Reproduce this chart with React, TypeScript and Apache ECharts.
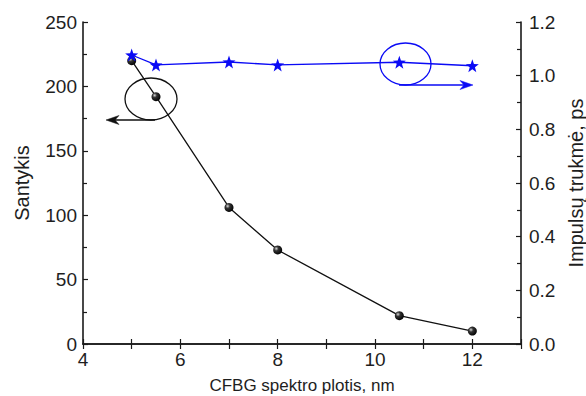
import React, { useEffect, useRef } from "react";
import * as echarts from "echarts";

// Spectral width of the CFBG, nm
const widthNm = [5, 5.5, 7, 8, 10.5, 12];
// Ratio (left axis)
const ratioValues = [220, 192, 106, 73, 22, 10];
// Pulse duration, ps (right axis)
const durationPs = [1.077, 1.04, 1.051, 1.04, 1.05, 1.037];

const xTickLabels = ["4", "6", "8", "10", "12"];

const FONT = "Liberation Sans, Arial, sans-serif";
const AXIS_COLOR = "#1a1a1a";
const TEXT_COLOR = "#1e1e1e";
const BLUE = "#0a0af5";

const STAR =
  "path://M0,-10L2.35,-3.24L9.51,-3.09L3.8,1.24L5.88,8.09L0,4L-5.88,8.09L-3.8,1.24L-9.51,-3.09L-2.35,-3.24Z";

const ballColor = new echarts.graphic.RadialGradient(0.35, 0.35, 0.7, [
  { offset: 0, color: "#d8d8d8" },
  { offset: 0.35, color: "#333" },
  { offset: 1, color: "#000" },
]);

function arrowHead(tipX: number, tipY: number, dir: number, color: string) {
  // dir = -1 points left, +1 points right
  const len = 13;
  const half = 4.5;
  const notch = 4;
  return {
    type: "polygon",
    shape: {
      points: [
        [tipX, tipY],
        [tipX - dir * len, tipY - half],
        [tipX - dir * (len - notch), tipY],
        [tipX - dir * len, tipY + half],
      ],
    },
    style: { fill: color, stroke: color, lineWidth: 0.5 },
    z: 10,
  };
}

export default function App() {
  const ref = useRef<HTMLDivElement>(null);

  useEffect(() => {
    if (!ref.current) return;
    const chart = echarts.init(ref.current, null, { renderer: "svg" });

    const tickStyle = { color: AXIS_COLOR, width: 1.2 };
    const lineStyle = { color: AXIS_COLOR, width: 1.6 };

    chart.setOption({
      animation: false,
      backgroundColor: "#fff",
      textStyle: { fontFamily: FONT },
      grid: {
        left: 83,
        right: 65,
        top: 22,
        bottom: 52,
        containLabel: false,
        outerBoundsMode: "none",
      },
      xAxis: [
        {
          type: "value",
          min: 4,
          max: 13,
          interval: 1,
          position: "bottom",
          name: "CFBG spektro plotis, nm",
          nameLocation: "middle",
          nameGap: 33,
          nameTextStyle: { fontSize: 17, color: TEXT_COLOR, fontFamily: FONT },
          axisLine: { show: true, lineStyle },
          axisTick: { show: true, inside: true, length: 5, lineStyle: tickStyle },
          axisLabel: {
            fontSize: 19,
            color: TEXT_COLOR,
            margin: 6,
            formatter: (v: number) =>
              xTickLabels.includes(String(v)) ? String(v) : "",
          },
          splitLine: { show: false },
        },
        {
          type: "value",
          min: 4,
          max: 13,
          interval: 1,
          position: "top",
          axisLine: { show: true, lineStyle },
          axisTick: { show: true, inside: true, length: 5, lineStyle: tickStyle },
          axisLabel: { show: false },
          splitLine: { show: false },
        },
      ],
      yAxis: [
        {
          type: "value",
          min: 0,
          max: 250,
          interval: 50,
          position: "left",
          name: "Santykis",
          nameLocation: "middle",
          nameRotate: 90,
          nameGap: 51,
          nameTextStyle: { fontSize: 20, color: TEXT_COLOR, fontFamily: FONT },
          axisLine: { show: true, lineStyle },
          axisTick: { show: true, inside: true, length: 5, lineStyle: tickStyle },
          minorTick: { show: true, splitNumber: 2, length: 4, lineStyle: tickStyle },
          axisLabel: { fontSize: 19, color: TEXT_COLOR, margin: 6 },
          splitLine: { show: false },
        },
        {
          type: "value",
          min: 0,
          max: 1.2,
          interval: 0.2,
          position: "right",
          name: "Impulsų trukmė, ps",
          nameLocation: "middle",
          nameRotate: 90,
          nameGap: 37,
          nameTextStyle: { fontSize: 20, color: TEXT_COLOR, fontFamily: FONT },
          axisLine: { show: true, lineStyle },
          axisTick: { show: true, inside: true, length: 5, lineStyle: tickStyle },
          minorTick: { show: true, splitNumber: 2, length: 4, lineStyle: tickStyle },
          axisLabel: {
            fontSize: 19,
            color: TEXT_COLOR,
            margin: 8,
            formatter: (v: number) => v.toFixed(1),
          },
          splitLine: { show: false },
        },
      ],
      series: [
        {
          name: "Santykis",
          type: "line",
          xAxisIndex: 0,
          yAxisIndex: 0,
          data: widthNm.map((x, i) => [x, ratioValues[i]]),
          lineStyle: { color: "#111", width: 1.3 },
          symbol: "circle",
          symbolSize: 9,
          itemStyle: { color: ballColor, borderWidth: 0 },
          z: 3,
        },
        {
          name: "Impulsų trukmė",
          type: "line",
          xAxisIndex: 0,
          yAxisIndex: 1,
          data: widthNm.map((x, i) => [x, durationPs[i]]),
          lineStyle: { color: BLUE, width: 1.3 },
          symbol: STAR,
          symbolSize: 13,
          itemStyle: { color: BLUE, borderWidth: 0 },
          z: 4,
        },
      ],
      graphic: [
        // black ellipse + arrow pointing to the left axis
        {
          type: "ellipse",
          shape: { cx: 151, cy: 99, rx: 26, ry: 21 },
          style: { fill: "none", stroke: "#111", lineWidth: 1.3 },
          z: 10,
        },
        {
          type: "line",
          shape: { x1: 155, y1: 120, x2: 112, y2: 120 },
          style: { stroke: "#111", lineWidth: 1.3 },
          z: 10,
        },
        arrowHead(106, 120, -1, "#111"),
        // blue ellipse + arrow pointing to the right axis
        {
          type: "ellipse",
          shape: { cx: 405.5, cy: 64, rx: 25.5, ry: 21 },
          style: { fill: "none", stroke: BLUE, lineWidth: 1.3 },
          z: 10,
        },
        {
          type: "line",
          shape: { x1: 399, y1: 85, x2: 467, y2: 85 },
          style: { stroke: BLUE, lineWidth: 1.3 },
          z: 10,
        },
        arrowHead(473, 85, 1, BLUE),
      ],
    });

    return () => chart.dispose();
  }, []);

  return (
    <div
      ref={ref}
      style={{ position: "absolute", left: 0, top: 0, width: 586, height: 396 }}
    />
  );
}
